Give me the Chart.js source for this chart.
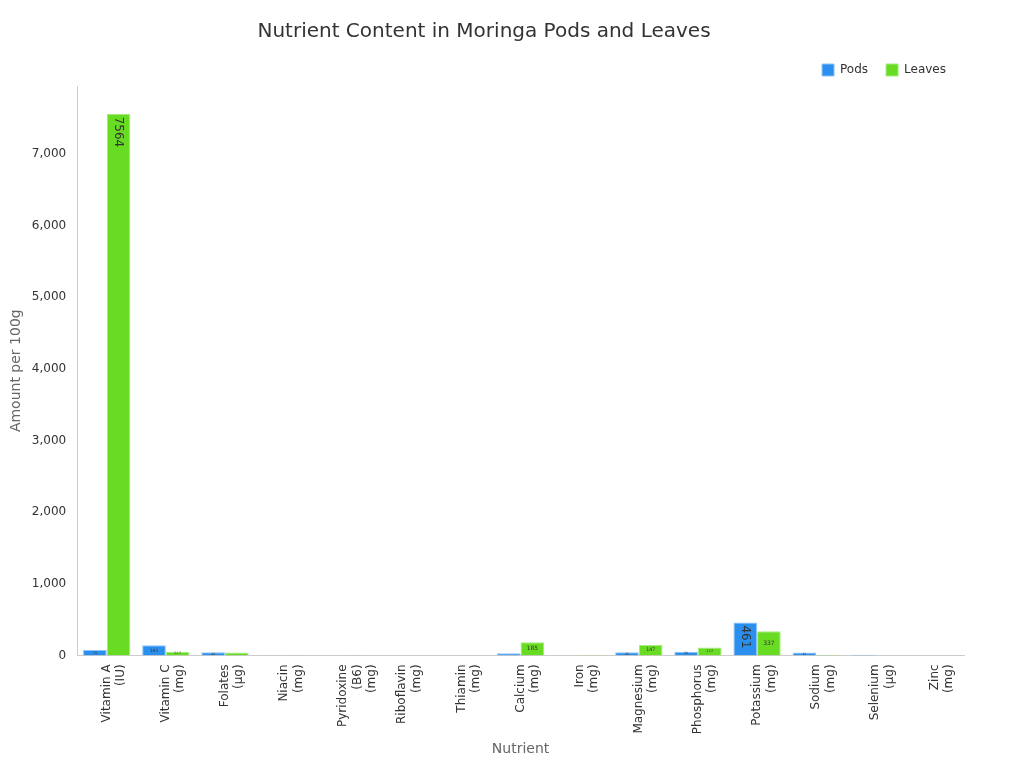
<!DOCTYPE html>
<html><head><meta charset="utf-8">
<script src="https://cdn.jsdelivr.net/npm/chart.js@4/dist/chart.umd.min.js"></script>
<style>html,body{margin:0;background:#fff}#w{width:1024px;height:768px}</style>
</head><body><div id="w"><canvas id="c"></canvas></div>
<script>
const categories = [["Vitamin A","(IU)"],["Vitamin C","(mg)"],["Folates","(µg)"],["Niacin","(mg)"],["Pyridoxine","(B6)","(mg)"],["Riboflavin","(mg)"],["Thiamin","(mg)"],["Calcium","(mg)"],["Iron","(mg)"],["Magnesium","(mg)"],["Phosphorus","(mg)"],["Potassium","(mg)"],["Sodium","(mg)"],["Selenium","(µg)"],["Zinc","(mg)"]];
const pods = [74,141,44,0.62,0.12,0.074,0.053,30,0.36,45,50,461,42,8.2,0.45];
const leaves = [7564,51.7,40,2.22,1.2,0.66,0.257,185,4,147,112,337,9,0.9,0.6];

const labelPlugin = {
  id:'barLabels',
  afterDatasetsDraw(chart){
    const ctx = chart.ctx;
    chart.data.datasets.forEach((ds,i)=>{
      chart.getDatasetMeta(i).data.forEach((bar,j)=>{
        const v = ds.data[j];
        const h = bar.base - bar.y;
        if (h < 3) return;
        const txt = String(v);
        ctx.save();
        ctx.fillStyle = '#333';
        if (h > 25) {
          ctx.font = '12px "DejaVu Sans"';
          ctx.translate(bar.x, bar.y + 3);
          ctx.rotate(Math.PI/2);
          ctx.textAlign = 'left'; ctx.textBaseline = 'middle';
          ctx.fillText(txt, 0, 0);
        } else {
          const fs = Math.max(3, Math.min(6, h*0.45));
          ctx.font = fs + 'px "DejaVu Sans"';
          ctx.textAlign = 'center'; ctx.textBaseline = 'middle';
          ctx.fillText(txt, bar.x, bar.y + h/2);
        }
        ctx.restore();
      });
    });
  }
};

new Chart(document.getElementById('c'), {
  type:'bar',
  data:{labels:categories, datasets:[
    {label:'Pods', data:pods, backgroundColor:'#2b8ff0', borderColor:'#8ec3f6', borderWidth:1},
    {label:'Leaves', data:leaves, backgroundColor:'#68dc22', borderColor:'#a6ea7c', borderWidth:1}
  ]},
  options:{
    responsive:true, maintainAspectRatio:false, animation:false,
    layout:{padding:{left:4,right:60,top:10,bottom:6}},
    datasets:{bar:{categoryPercentage:0.8,barPercentage:1}},
    plugins:{
      title:{display:true,text:'Nutrient Content in Moringa Pods and Leaves',color:'#333',font:{family:'DejaVu Sans',size:20,weight:'normal'},padding:{top:10,bottom:2}},
      legend:{position:'top',align:'end',labels:{boxWidth:12,boxHeight:12,padding:18,color:'#333',font:{family:'DejaVu Sans',size:12}}},
      tooltip:{enabled:false}
    },
    scales:{
      x:{grid:{display:false,tickLength:6,tickColor:'#555'},border:{color:'#ccc'},
         ticks:{autoSkip:false,maxRotation:90,minRotation:90,color:'#333',font:{family:'DejaVu Sans',size:12}},
         title:{display:true,text:'Nutrient',color:'#666',font:{family:'DejaVu Sans',size:14}}},
      y:{min:0,max:7950,grid:{display:false},border:{color:'#ccc'},
         ticks:{stepSize:1000,color:'#333',font:{family:'DejaVu Sans',size:12}},
         afterBuildTicks(s){ s.ticks = [0,1000,2000,3000,4000,5000,6000,7000].map(v=>({value:v})); },
         title:{display:true,text:'Amount per 100g',color:'#666',font:{family:'DejaVu Sans',size:14}}}
    }
  },
  plugins:[labelPlugin]
});
</script></body></html>
